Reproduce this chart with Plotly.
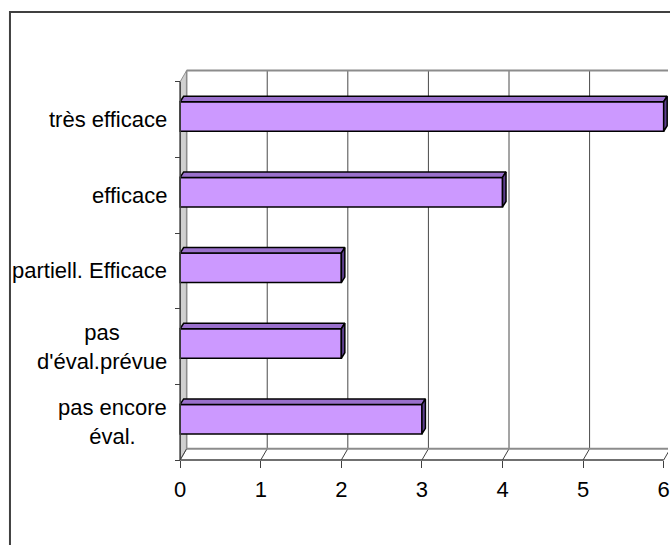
import plotly.graph_objects as go

# ---- data (bottom to top) ----
categories = ["pas encore<br>éval.", "pas<br>d'éval.prévue", "partiell. Efficace", "efficace", "très efficace"]
values = [3, 2, 2, 4, 6]
x_ticks = [0, 1, 2, 3, 4, 5, 6]

# ---- geometry / style ----
W, H = 670, 545
PX_X0, PX_PER_X = 180.7, 80.83     # pixel of x=0 and pixels per unit
PX_YB, PX_PER_Y = 460.0, 75.66     # pixel of y=-0.5 (front floor) and pixels per unit
XR = [-PX_X0 / PX_PER_X, (W - PX_X0) / PX_PER_X]
YR = [-0.5 - (H - PX_YB) / PX_PER_Y, -0.5 + PX_YB / PX_PER_Y]

DX = 6.5 / PX_PER_X     # wall depth
DY = 11.2 / PX_PER_Y
BDX = 3.5 / PX_PER_X    # bar depth
BDY = 5.5 / PX_PER_Y
BOFF = 0.04
BW = 0.39

n = len(categories)
ylo, yhi = -0.5, n - 0.5
xmax = x_ticks[-1]

FONT = "Liberation Sans, Arial, sans-serif"
FS = 22
FRONT = "#CC99FF"
TOP = "#9A70CC"
SIDE = "#5E3F8F"

fig = go.Figure()

# front faces of bars
fig.add_trace(go.Bar(
    x=values, y=[i + BOFF for i in range(n)], base=0, orientation="h",
    width=BW, marker=dict(color=FRONT, line=dict(color="black", width=1.5)),
    hoverinfo="skip", showlegend=False,
))

# top and side faces of bars
for i, v in enumerate(values):
    yc = i + BOFF
    t, b = yc + BW / 2, yc - BW / 2
    fig.add_trace(go.Scatter(
        x=[0, v, v + BDX, BDX, 0], y=[t, t, t + BDY, t + BDY, t],
        mode="lines", fill="toself", fillcolor=TOP,
        line=dict(color="black", width=1.5), hoverinfo="skip", showlegend=False,
    ))
    fig.add_trace(go.Scatter(
        x=[v, v, v + BDX, v + BDX, v], y=[b, t, t + BDY, b + BDY, b],
        mode="lines", fill="toself", fillcolor=SIDE,
        line=dict(color="black", width=1.5), hoverinfo="skip", showlegend=False,
    ))

shapes = []
# left side wall
shapes.append(dict(type="path", xref="x", yref="y", layer="below",
                   path=f"M 0 {ylo} L 0 {yhi} L {DX} {yhi + DY} L {DX} {ylo + DY} Z",
                   fillcolor="#D0D0D0", line=dict(color="#909090", width=1)))
# back wall gridlines
for k in x_ticks[1:]:
    shapes.append(dict(type="line", xref="x", yref="y", layer="below",
                       x0=k + DX, x1=k + DX, y0=ylo + DY, y1=yhi + DY,
                       line=dict(color="#4A4A4A", width=1)))
# floor diagonals
for k in x_ticks:
    shapes.append(dict(type="line", xref="x", yref="y", layer="below",
                       x0=k, x1=k + DX, y0=ylo, y1=ylo + DY,
                       line=dict(color="#404040", width=1)))
# back wall top edge and floor back edge
shapes.append(dict(type="line", xref="x", yref="y", layer="below",
                   x0=DX, x1=xmax + DX, y0=yhi + DY, y1=yhi + DY,
                   line=dict(color="#8C8C8C", width=2)))
shapes.append(dict(type="line", xref="x", yref="y", layer="below",
                   x0=DX, x1=xmax + DX, y0=ylo + DY, y1=ylo + DY,
                   line=dict(color="#8C8C8C", width=2)))
# back wall left edge
shapes.append(dict(type="line", xref="x", yref="y", layer="below",
                   x0=DX, x1=DX, y0=ylo + DY, y1=yhi + DY,
                   line=dict(color="#8C8C8C", width=1.5)))
# front axes lines
shapes.append(dict(type="line", xref="x", yref="y",
                   x0=0, x1=xmax, y0=ylo, y1=ylo,
                   line=dict(color="#404040", width=1.5)))
shapes.append(dict(type="line", xref="x", yref="y",
                   x0=0, x1=0, y0=ylo, y1=yhi,
                   line=dict(color="#404040", width=1.5)))
# outer chart border
shapes.append(dict(type="rect", xref="paper", yref="paper",
                   x0=10 / W, x1=1.2, y0=-0.2, y1=1 - 12 / H,
                   line=dict(color="#404040", width=2), fillcolor="rgba(0,0,0,0)"))

annotations = []
for i, c in enumerate(categories):
    annotations.append(dict(xref="paper", yref="y", x=170 / W, y=i,
                            xanchor="right", yanchor="middle", align="center",
                            text=c, showarrow=False,
                            font=dict(family=FONT, size=FS, color="black")))

fig.update_layout(
    width=W, height=H, margin=dict(l=0, r=0, t=0, b=0),
    paper_bgcolor="white", plot_bgcolor="white",
    shapes=shapes, annotations=annotations, showlegend=False,
    xaxis=dict(range=XR, anchor="free", position=(H - PX_YB) / H,
               tickvals=x_ticks, ticktext=[str(t) for t in x_ticks],
               ticks="outside", ticklen=7, tickcolor="#404040", tickwidth=1,
               showgrid=False, zeroline=False, showline=False,
               tickfont=dict(family=FONT, size=FS, color="black"),
               ticklabelstandoff=3, ticklabeloverflow="allow", fixedrange=True),
    yaxis=dict(range=YR, anchor="free", position=PX_X0 / W,
               tickvals=[i - 0.5 for i in range(n + 1)],
               ticktext=["" for _ in range(n + 1)],
               ticks="outside", ticklen=5, tickcolor="#404040", tickwidth=1,
               showgrid=False, zeroline=False, showline=False, fixedrange=True),
)

fig.write_html("out.html", config={"displayModeBar": False})
